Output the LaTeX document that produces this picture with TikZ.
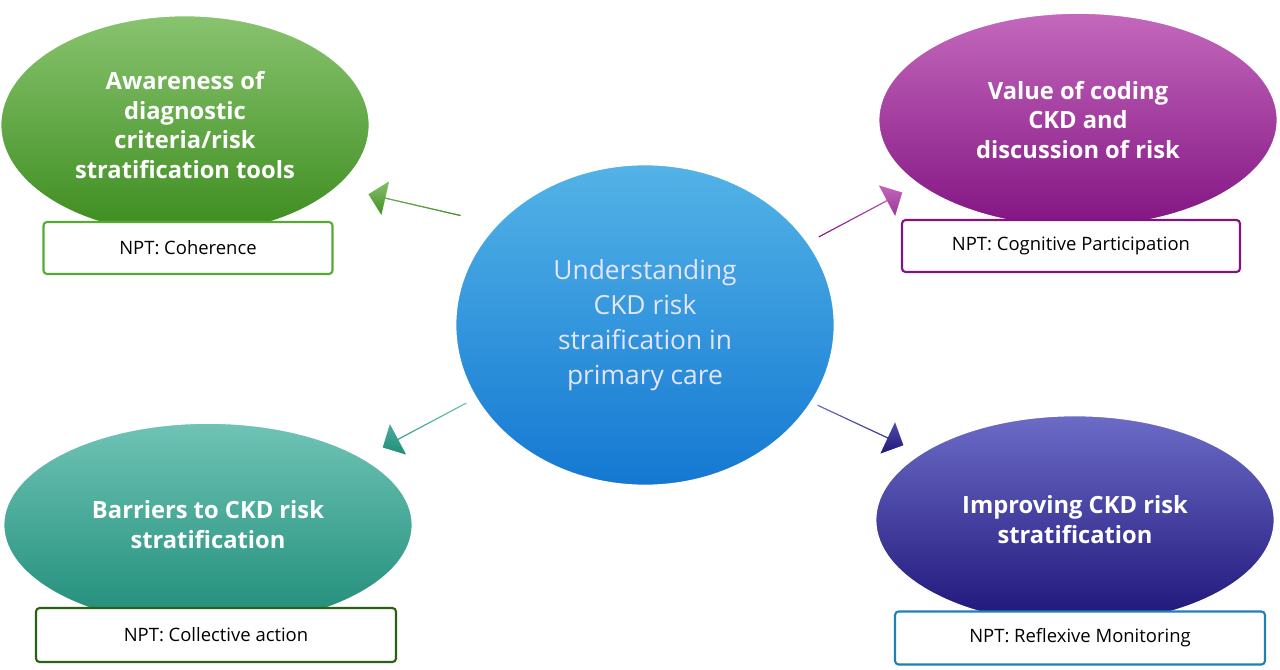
\documentclass[tikz,border=0pt]{standalone}
\usepackage{fontspec}
\setmainfont{Open Sans}
\usetikzlibrary{shapes.arrows,shapes.geometric,positioning}
\definecolor{grn}{RGB}{86,170,50}
\definecolor{grnd}{RGB}{60,140,30}
\definecolor{prp}{RGB}{170,40,160}
\definecolor{prpd}{RGB}{130,20,130}
\definecolor{blu}{RGB}{40,160,225}
\definecolor{blud}{RGB}{20,120,210}
\definecolor{tea}{RGB}{50,170,150}
\definecolor{tead}{RGB}{30,140,120}
\definecolor{nav}{RGB}{45,45,175}
\definecolor{navd}{RGB}{30,20,120}
\tikzset{
  topic/.style={ellipse, draw=white, line width=1.5pt, text=white,
    font=\fontsize{13.5}{17}\selectfont\bfseries, align=center, inner sep=0pt},
  npt/.style={draw=#1, line width=1.2pt, fill=white, rounded corners=2pt,
    font=\fontsize{10.5}{12}\selectfont, inner sep=0pt},
  blk/.style={single arrow, single arrow head extend=5pt, minimum height=55pt,
    minimum width=22pt, inner sep=0pt, draw=white, line width=0.8pt}
}
\begin{document}
\begin{tikzpicture}[x=0.02cm,y=-0.02cm]
\useasboundingbox (0,0) rectangle (1280,669);
% topics
\node[topic, minimum width=7.4cm, minimum height=4.4cm, top color=grn!70!white, bottom color=grnd] (aware) at (185,125) {Awareness of\\diagnostic\\criteria/risk\\stratification tools};
\node[topic, minimum width=8cm, minimum height=4.3cm, top color=prp!70!white, bottom color=prpd] (value) at (1078,120) {Value of coding\\CKD and\\discussion of risk};
\node[topic, minimum width=8.2cm, minimum height=4.1cm, top color=tea!70!white, bottom color=tead] (barrier) at (208,525) {Barriers to CKD risk\\stratification};
\node[topic, minimum width=8cm, minimum height=4.2cm, top color=nav!70!white, bottom color=navd] (improve) at (1075,520) {Improving CKD risk\\stratification};
% centre
\node[ellipse, draw=white, line width=1.5pt, minimum width=7.6cm, minimum height=6.44cm,
  top color=blu!80!white, bottom color=blud, text=white!90!blue, align=center,
  font=\fontsize{15}{20}\selectfont] (centre) at (645,325)
  {Understanding\\CKD risk\\straification in\\primary care};
% boxes
\node[npt=grn, minimum width=5.78cm, minimum height=1.04cm] (coh) at (188,248) {NPT: Coherence};
\node[npt=prpd, minimum width=6.76cm, minimum height=1.04cm] (cog) at (1071,246) {NPT: Cognitive Participation};
\node[npt=grnd!70!black, minimum width=7.2cm, minimum height=1.08cm] (col) at (216,635) {NPT: Collective action};
\node[npt=blu!80!black, minimum width=7.4cm, minimum height=1.06cm] (ref) at (1080,638) {NPT: Reflexive Monitoring};
% arrows
\node[blk, top color=grn!70!white, bottom color=grnd, rotate=167] (a1) at (415,205) {};
\node[blk, top color=prp!70!white, bottom color=prpd, rotate=28] (a2) at (860,215) {};
\node[blk, top color=tea!70!white, bottom color=tead, rotate=-152] (a3) at (425,425) {};
\node[blk, top color=nav!70!white, bottom color=navd, rotate=-25] (a4) at (860,425) {};
\end{tikzpicture}
\end{document}
